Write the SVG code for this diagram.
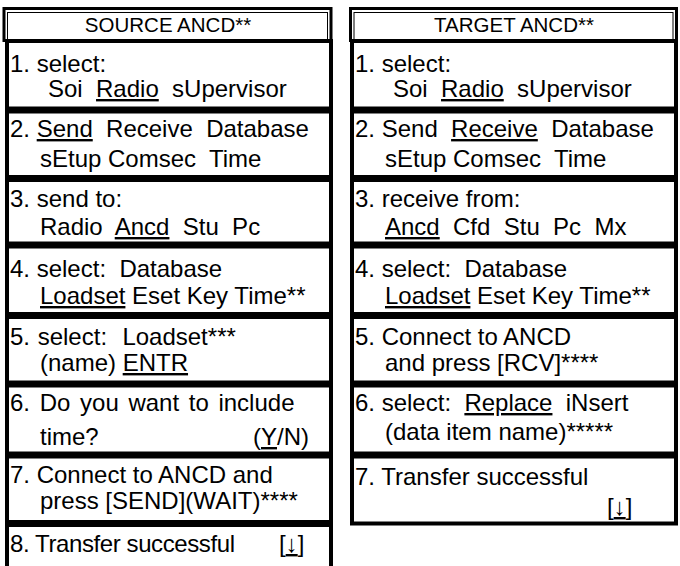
<svg xmlns="http://www.w3.org/2000/svg" width="680" height="566" viewBox="0 0 680 566">
<style>
.box{fill:#fff;stroke:#000;stroke-width:4}
.hdo{fill:#fff;stroke:#000;stroke-width:3}
.hdi{fill:none;stroke:#000;stroke-width:1}
text{font-family:"Liberation Sans",Arial,sans-serif;font-size:24px;fill:#000;white-space:pre}
.h{font-size:20.5px;text-anchor:middle}
.u{text-decoration:underline}
</style>
<rect width="680" height="566" fill="#fff"/>
<g id="source-header">
<rect class="hdo" x="4" y="8.5" width="327" height="32"/>
<rect class="hdi" x="7.5" y="12.5" width="320" height="28"/>
<text class="h" x="168" y="32">SOURCE ANCD**</text>
</g>
<g id="s1"><rect class="box" x="7" y="41" width="324" height="67.5"/>
<text x="10" y="72">1. select:</text><text x="48" y="97">Soi  <tspan class="u">Radio</tspan>  sUpervisor</text></g>
<g id="s2"><rect class="box" x="7" y="111.5" width="324" height="65.5"/>
<text x="10" y="137">2. <tspan class="u">Send</tspan>  Receive  Database</text><text x="40" y="167">sEtup Comsec  Time</text></g>
<g id="s3"><rect class="box" x="7" y="180" width="324" height="63.5"/>
<text x="10" y="207">3. send to:</text><text x="40" y="235">Radio  <tspan class="u">Ancd</tspan>  Stu  Pc</text></g>
<g id="s4"><rect class="box" x="7" y="246.5" width="324" height="67.5"/>
<text x="10" y="277">4. select:  Database</text><text x="40" y="304"><tspan class="u">Loadset</tspan> Eset Key Time**</text></g>
<g id="s5"><rect class="box" x="7" y="317" width="324" height="65.5"/>
<text x="10" y="345" word-spacing="1">5. select:  Loadset***</text><text x="40" y="371">(name) <tspan class="u">ENTR</tspan></text></g>
<g id="s6"><rect class="box" x="7" y="385.5" width="324" height="68"/>
<text x="10" y="411" word-spacing="3">6. Do you want to include</text><text x="40" y="445">time?</text><text x="309" y="445" text-anchor="end">(<tspan class="u">Y</tspan>/N)</text></g>
<g id="s7"><rect class="box" x="7" y="456.5" width="324" height="65.5"/>
<text x="10" y="483">7. Connect to ANCD and</text><text x="40" y="509">press [SEND](WAIT)****</text></g>
<g id="s8"><rect class="box" x="7" y="525" width="324" height="80"/>
<text x="10" y="552" textLength="225" lengthAdjust="spacing">8. Transfer successful</text><text x="279" y="552">[<tspan class="u">↓</tspan>]</text></g>

<g id="target-header">
<rect class="hdo" x="350.5" y="8.5" width="326" height="32"/>
<rect class="hdi" x="354" y="12.5" width="319" height="28"/>
<text class="h" x="514" y="32">TARGET ANCD**</text>
</g>
<g id="t1"><rect class="box" x="352" y="41" width="324" height="67.5"/>
<text x="355" y="72">1. select:</text><text x="393" y="97">Soi  <tspan class="u">Radio</tspan>  sUpervisor</text></g>
<g id="t2"><rect class="box" x="352" y="111.5" width="324" height="65.5"/>
<text x="355" y="137">2. Send  <tspan class="u">Receive</tspan>  Database</text><text x="385" y="167">sEtup Comsec  Time</text></g>
<g id="t3"><rect class="box" x="352" y="180" width="324" height="63.5"/>
<text x="355" y="207">3. receive from:</text><text x="385" y="235"><tspan class="u">Ancd</tspan>  Cfd  Stu  Pc  Mx</text></g>
<g id="t4"><rect class="box" x="352" y="246.5" width="324" height="67.5"/>
<text x="355" y="277">4. select:  Database</text><text x="385" y="304"><tspan class="u">Loadset</tspan> Eset Key Time**</text></g>
<g id="t5"><rect class="box" x="352" y="317" width="324" height="65.5"/>
<text x="355" y="345">5. Connect to ANCD</text><text x="385" y="371">and press [RCV]****</text></g>
<g id="t6"><rect class="box" x="352" y="385.5" width="324" height="68"/>
<text x="355" y="411">6. select:  <tspan class="u">Replace</tspan>  iNsert</text><text x="385" y="440">(data item name)*****</text></g>
<g id="t7"><rect class="box" x="352" y="456.5" width="324" height="67"/>
<text x="355" y="485">7. Transfer successful</text><text x="607" y="515">[<tspan class="u">↓</tspan>]</text></g>
<g id="connectors"></g>
</svg>
